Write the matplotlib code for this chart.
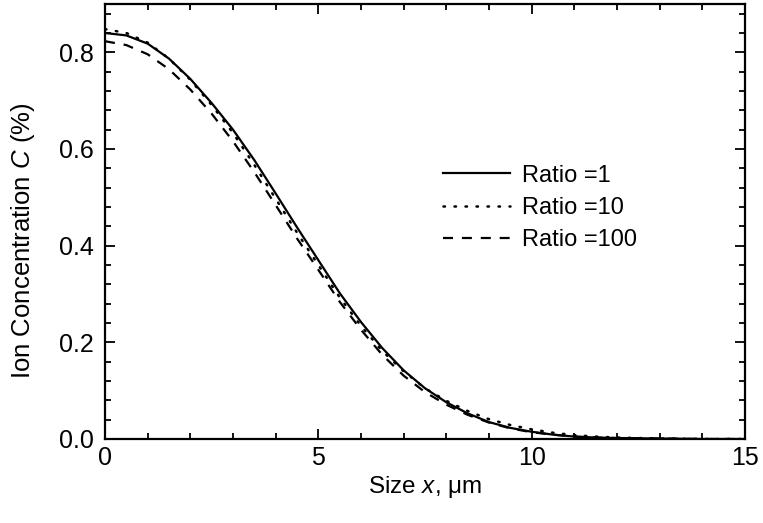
import numpy as np
import matplotlib
matplotlib.use("Agg")
from matplotlib import pyplot as plt
from matplotlib.ticker import MultipleLocator, FormatStrFormatter

# Values.
size_x = [0, 0.5, 1, 1.5, 2, 2.5, 3, 3.5, 4, 4.5, 5, 5.5, 6, 6.5, 7, 7.5,
          8, 8.5, 9, 9.5, 10, 10.5, 11, 11.5, 12, 13, 14, 15]
conc_ratio1 = [0.840, 0.835, 0.818, 0.787, 0.745, 0.695, 0.640, 0.577, 0.508,
               0.438, 0.370, 0.302, 0.242, 0.188, 0.142, 0.105, 0.076, 0.053,
               0.035, 0.023, 0.015, 0.009, 0.005, 0.003, 0.002, 0.001, 0.0, 0.0]
conc_ratio10 = [0.848, 0.840, 0.820, 0.787, 0.743, 0.691, 0.633, 0.567, 0.497,
                0.427, 0.360, 0.293, 0.234, 0.182, 0.140, 0.105, 0.079, 0.058,
                0.041, 0.029, 0.020, 0.013, 0.008, 0.005, 0.003, 0.001, 0.0, 0.0]
conc_ratio100 = [0.823, 0.815, 0.796, 0.765, 0.723, 0.673, 0.616, 0.552, 0.484,
                 0.415, 0.350, 0.284, 0.226, 0.174, 0.131, 0.097, 0.071, 0.050,
                 0.034, 0.022, 0.014, 0.009, 0.005, 0.003, 0.002, 0.001, 0.0, 0.0]
labels = ["Ratio =1", "Ratio =10", "Ratio =100"]

plt.rcParams['font.family'] = ['Liberation Sans', 'DejaVu Sans']
plt.rcParams['mathtext.fontset'] = 'custom'
plt.rcParams['mathtext.it'] = 'Liberation Sans:italic'
plt.rcParams['mathtext.rm'] = 'Liberation Sans'

fig = plt.figure(figsize=(7.63, 5.23), dpi=100)
ax = fig.add_axes([105/763, 84/523, 640/763, 435/523])

ax.plot(size_x, conc_ratio1, color='black', lw=1.6, ls='-', label=labels[0])
ax.plot(size_x, conc_ratio10, color='black', lw=1.8, ls=(0, (0.6, 3.8)),
        dash_capstyle='round', label=labels[1])
ax.plot(size_x, conc_ratio100, color='black', lw=1.6, ls=(0, (4.5, 4)),
        label=labels[2])

ax.set_xlim(0, 15)
ax.set_ylim(0, 0.9)
ax.xaxis.set_major_locator(MultipleLocator(5))
ax.xaxis.set_minor_locator(MultipleLocator(1))
ax.yaxis.set_major_locator(MultipleLocator(0.2))
ax.yaxis.set_minor_locator(MultipleLocator(0.04))
ax.yaxis.set_major_formatter(FormatStrFormatter('%.1f'))

ax.tick_params(which='both', direction='in', top=True, right=True, width=1.3)
ax.tick_params(which='major', length=7, labelsize=18)
ax.tick_params(axis='x', pad=5)
ax.tick_params(axis='y', pad=8)
ax.tick_params(which='minor', length=4)
for s in ax.spines.values():
  s.set_linewidth(1.6)

ax.set_xlabel(r"Size $x$, $\mathrm{\mu}$m", fontsize=17.5, labelpad=3)
ax.set_ylabel(r"Ion Concentration $C$ (%)", fontsize=18.5)
ax.yaxis.set_label_coords(-0.107, 0.455)

ax.legend(loc='upper left', bbox_to_anchor=(0.528, 0.631), frameon=False,
          fontsize=17, handlelength=2.85, handletextpad=0.5, labelspacing=0.44,
          borderpad=0, borderaxespad=0)

fig.savefig("out.png", dpi=100)
